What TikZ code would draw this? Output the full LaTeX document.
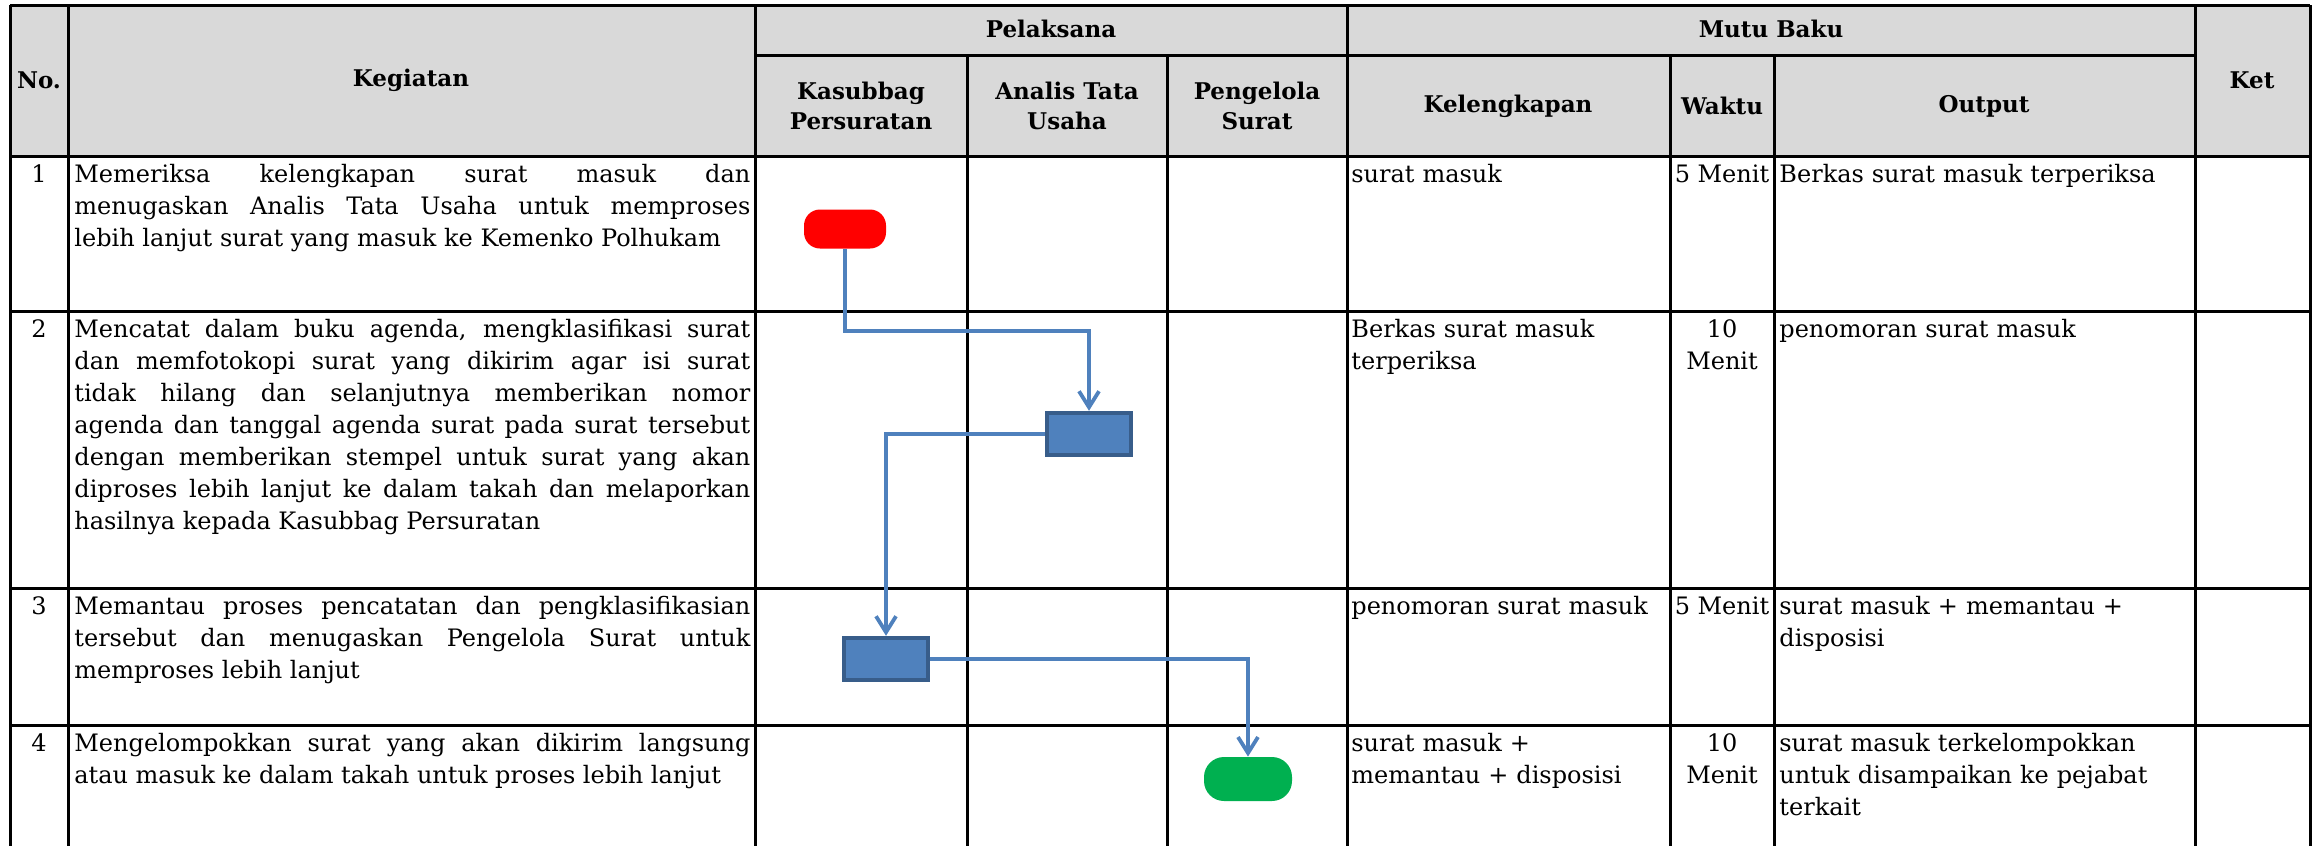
\documentclass[tikz,border=0pt]{standalone}
\usepackage{fontspec}
\setmainfont{DejaVu Serif}
\usetikzlibrary{arrows.meta,positioning}
\definecolor{headgray}{RGB}{217,217,217}
\definecolor{flowblue}{RGB}{79,129,189}
\definecolor{boxedge}{RGB}{56,93,138}
\definecolor{endgreen}{RGB}{0,176,80}
\tolerance=10000
\hyphenpenalty=10000

\begin{document}
\begin{tikzpicture}[x=0.5pt,y=-0.5pt,
  grid/.style={line width=1.5pt},
  head/.style={font=\bfseries\fontsize{11.5}{15}\selectfont, align=center, inner sep=0pt},
  txt/.style={font=\fontsize{12}{16}\selectfont, anchor=north west, inner sep=0pt, align=left},
  prosesbox/.style={draw=boxedge, fill=flowblue, line width=2.2pt, minimum width=42pt, minimum height=21pt, inner sep=0pt},
  flow/.style={draw=flowblue, line width=1.9pt, -{Straight Barb[length=8pt,width=10pt]}}]
  \useasboundingbox (0,0) rectangle (2321,846);
  \fill[headgray] (10,5) rectangle (2310,156);
  \draw[grid] (10,5) -- (2310,5);
  \draw[grid] (755,55) -- (2195,55);
  \foreach \y in {156,311,588,725} \draw[grid] (10,\y) -- (2310,\y);
  \foreach \x in {10,68,755,1347,2195,2310} \draw[grid] (\x,5) -- (\x,846);
  \foreach \x in {967,1167,1670,1774} \draw[grid] (\x,55) -- (\x,846);

  \node[head] (hno) at (39,80) {No.};
  \node[head] (hkeg) at (411,80) {Kegiatan};
  \node[head] (hpel) at (1051,29) {Pelaksana};
  \node[head] (hkas) at (861,106) {Kasubbag\\Persuratan};
  \node[head] (hana) at (1067,106) {Analis Tata\\Usaha};
  \node[head] (hpen) at (1257,106) {Pengelola\\Surat};
  \node[head] (hmutu) at (1771,29) {Mutu Baku};
  \node[head] (hkel) at (1508,106) {Kelengkapan};
  \node[head] (hwak) at (1722,106) {Waktu};
  \node[head] (hout) at (1984,106) {Output};
  \node[head] (hket) at (2252,80) {Ket};

  \node[txt, anchor=north] (n1) at (39,164) {1};
  \node[txt, text width=338pt, align=justify] (k1) at (74,164) {Memeriksa kelengkapan surat masuk dan\linebreak menugaskan Analis Tata Usaha untuk memproses\linebreak lebih lanjut surat yang masuk ke Kemenko Polhukam};
  \node[txt, text width=157pt] (l1) at (1351,164) {surat masuk};
  \node[txt, anchor=north, align=center] (w1) at (1722,164) {5 Menit};
  \node[txt, text width=206pt] (o1) at (1779,164) {Berkas surat masuk terperiksa};

  \node[txt, anchor=north] (n2) at (39,319) {2};
  \node[txt, text width=338pt, align=justify] (k2) at (74,319) {Mencatat dalam buku agenda, mengklasifikasi surat\linebreak dan memfotokopi surat yang dikirim agar isi surat\linebreak tidak hilang dan selanjutnya memberikan nomor\linebreak agenda dan tanggal agenda surat pada surat tersebut\linebreak dengan memberikan stempel untuk surat yang akan\linebreak diproses lebih lanjut ke dalam takah dan melaporkan\linebreak hasilnya kepada Kasubbag Persuratan};
  \node[txt, text width=157pt] (l2) at (1351,319) {Berkas surat masuk\\terperiksa};
  \node[txt, anchor=north, align=center] (w2) at (1722,319) {10\\Menit};
  \node[txt, text width=206pt] (o2) at (1779,319) {penomoran surat masuk};

  \node[txt, anchor=north] (n3) at (39,596) {3};
  \node[txt, text width=338pt, align=justify] (k3) at (74,596) {Memantau proses pencatatan dan pengklasifikasian\linebreak tersebut dan menugaskan Pengelola Surat untuk\linebreak memproses lebih lanjut};
  \node[txt, text width=157pt] (l3) at (1351,596) {penomoran surat masuk};
  \node[txt, anchor=north, align=center] (w3) at (1722,596) {5 Menit};
  \node[txt, text width=206pt] (o3) at (1779,596) {surat masuk + memantau +\\disposisi};

  \node[txt, anchor=north] (n4) at (39,733) {4};
  \node[txt, text width=338pt, align=justify] (k4) at (74,733) {Mengelompokkan surat yang akan dikirim langsung\linebreak atau masuk ke dalam takah untuk proses lebih lanjut};
  \node[txt, text width=157pt] (l4) at (1351,733) {surat masuk +\\memantau + disposisi};
  \node[txt, anchor=north, align=center] (w4) at (1722,733) {10\\Menit};
  \node[txt, text width=206pt] (o4) at (1779,733) {surat masuk terkelompokkan\\untuk disampaikan ke pejabat\\terkait};

  \node[fill=red, rounded corners=8pt, minimum width=41pt, minimum height=19.5pt, inner sep=0pt] (mulai) at (845,229) {};
  \node[prosesbox] (catat) at (1089,434) {};
  \node[prosesbox] (pantau) at (886,659) {};
  \node[fill=endgreen, rounded corners=10pt, minimum width=44pt, minimum height=22pt, inner sep=0pt] (selesai) at (1248,779) {};
  \draw[flow] (mulai.south) -- ++(0,82) -| (catat.north);
  \draw[flow] (catat.west) -| (pantau.north);
  \draw[flow] (pantau.east) -| (selesai.north);
\end{tikzpicture}
\end{document}
